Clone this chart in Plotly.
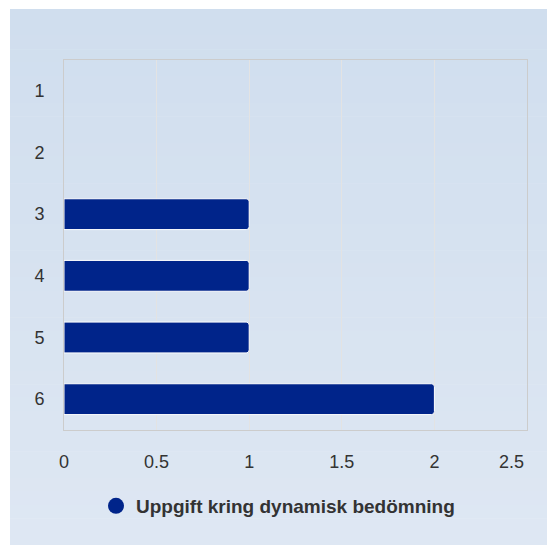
import plotly.graph_objects as go

categories = ["1", "2", "3", "4", "5", "6"]
values = [0, 0, 1, 1, 1, 2]
series_name = "Uppgift kring dynamisk bedömning"
x_ticks = [0, 0.5, 1, 1.5, 2, 2.5]
x_tick_labels = ["0", "0.5", "1", "1.5", "2", "2.5"]

W, H = 547, 545
ML, MR, MT, MB = 64, 20, 60, 115
PW, PH = W - ML - MR, H - MT - MB

def px_x(p):
    return (p - ML) / PW

def px_y(p):
    return (H - MB - p) / PH

bar_color = "#00248a"

fig = go.Figure()
fig.add_trace(go.Bar(
    y=categories, x=values, orientation="h",
    marker=dict(color=bar_color,
                line=dict(color="white", width=[1 if v > 0 else 0 for v in values]),
                cornerradius=3),
    showlegend=False, name=series_name,
))
fig.add_trace(go.Scatter(
    x=[None], y=[None], mode="markers", name=series_name,
    marker=dict(symbol="circle", color=bar_color, size=20),
    showlegend=True,
))

# gradient background panel
shapes = []
top, bot = 9, H
n = 40
c0 = (208, 222, 238)
c1 = (222, 231, 243)
for i in range(n):
    y0 = top + (bot - top) * i / n
    y1 = top + (bot - top) * (i + 1) / n + 0.5
    t = i / (n - 1)
    col = tuple(round(c0[k] + (c1[k] - c0[k]) * t) for k in range(3))
    shapes.append(dict(
        type="rect", xref="paper", yref="paper", layer="below",
        x0=px_x(10), x1=px_x(W + 2), y0=px_y(y0), y1=px_y(min(y1, H + 2)),
        line=dict(width=0), fillcolor="rgb(%d,%d,%d)" % col,
    ))

# last tick label is kept inside the chart (drawn as annotation, shifted left)
axis_text = x_tick_labels[:-1] + [""]
annotations = [dict(
    x=x_ticks[-1], xref="x", y=px_y(462), yref="paper",
    text=x_tick_labels[-1], showarrow=False, xanchor="right", yanchor="middle",
    xshift=-1, font=dict(size=18, color="#333333"),
)]

fig.update_layout(
    width=W, height=H,
    margin=dict(l=ML, r=MR, t=MT, b=MB, autoexpand=False),
    paper_bgcolor="white", plot_bgcolor="rgba(0,0,0,0)",
    shapes=shapes, annotations=annotations,
    bargap=0.5,
    font=dict(family="Liberation Sans, Arial, sans-serif", size=18, color="#333333"),
    xaxis=dict(
        range=[0, 2.5], tickvals=x_ticks, ticktext=axis_text,
        showgrid=True, gridcolor="#e3e3e3", gridwidth=1,
        zeroline=False, showline=True, linecolor="#cccccc", linewidth=1, mirror=True,
        ticks="", ticklabelstandoff=15, automargin=False,
        tickfont=dict(size=18, color="#333333"),
    ),
    yaxis=dict(
        autorange="reversed", type="category", automargin=False,
        showgrid=False, zeroline=False, showline=True, linecolor="#cccccc", linewidth=1, mirror=True,
        ticks="", ticklabelstandoff=15, tickfont=dict(size=18, color="#333333"),
    ),
    legend=dict(
        orientation="h", x=px_x(278), xanchor="center", y=px_y(506), yanchor="middle",
        font=dict(size=19, color="#333333", family="Liberation Sans, Arial, sans-serif", weight="bold"),
        bgcolor="rgba(0,0,0,0)", itemsizing="trace",
    ),
)

fig.write_html("out.html", config={"displayModeBar": False})
with open("out.html", "r", encoding="utf-8") as f:
    html = f.read()
html = html.replace("<body>", '<body style="margin:0;overflow:hidden">', 1)
with open("out.html", "w", encoding="utf-8") as f:
    f.write(html)
